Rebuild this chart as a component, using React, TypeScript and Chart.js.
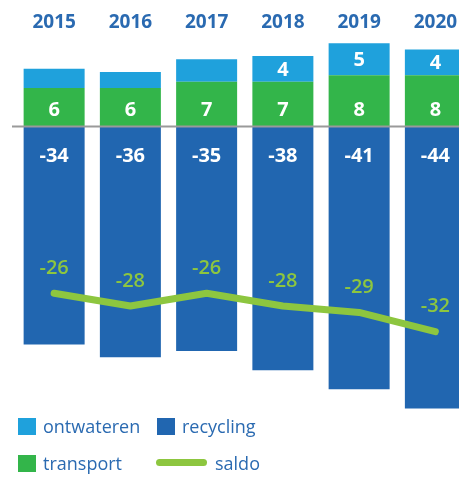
import React, { useEffect, useRef } from "react";
import { Chart, registerables } from "chart.js";

Chart.register(...registerables);

const years = ["2015", "2016", "2017", "2018", "2019", "2020"];
const transport = [6, 6, 7, 7, 8, 8];
const ontwateren = [3, 2.5, 3.5, 4, 5, 4];
const ontwaterenLabels = ["", "", "", "4", "5", "4"];
const recycling = [-34, -36, -35, -38, -41, -44];
const saldo = [-26, -28, -26, -28, -29, -32];

const C_ONT = "#1fa1dc";
const C_TRA = "#33b54a";
const C_REC = "#2166b0";
const C_SAL = "#8dc63f";
const C_TXT = "#2a6ab1";
const FONT = "'Open Sans', sans-serif";

const labelPlugin = {
  id: "labels",
  afterDatasetsDraw(chart: any) {
    const ctx = chart.ctx;
    const y0 = chart.scales.y.getPixelForValue(0);
    ctx.save();
    ctx.strokeStyle = "#9a9a9a";
    ctx.lineWidth = 2;
    ctx.beginPath();
    ctx.moveTo(4, y0);
    ctx.lineTo(chart.width, y0);
    ctx.stroke();

    ctx.textAlign = "center";
    ctx.textBaseline = "middle";
    ctx.fillStyle = "#ffffff";
    ctx.font = `bold 20px ${FONT}`;
    const mTra = chart.getDatasetMeta(0);
    mTra.data.forEach((el: any, i: number) => {
      ctx.fillText(String(transport[i]), el.x, y0 - 16);
    });
    const mOnt = chart.getDatasetMeta(1);
    mOnt.data.forEach((el: any, i: number) => {
      if (ontwaterenLabels[i]) ctx.fillText(ontwaterenLabels[i], el.x, (el.y + el.base) / 2 + 1);
    });
    const mRec = chart.getDatasetMeta(2);
    mRec.data.forEach((el: any, i: number) => {
      ctx.fillText(String(recycling[i]), el.x, y0 + 30);
    });
    ctx.fillStyle = C_SAL;
    ctx.font = `600 20px ${FONT}`;
    const mSal = chart.getDatasetMeta(3);
    mSal.data.forEach((el: any, i: number) => {
      ctx.fillText(String(saldo[i]), el.x, el.y - 25);
    });
    ctx.restore();
  },
};

export default function App() {
  const ref = useRef<HTMLCanvasElement>(null);
  useEffect(() => {
    document.documentElement.style.overflow = "hidden";
    document.body.style.overflow = "hidden";
    document.body.style.margin = "8px 0 0 8px";
    if (!ref.current) return;
    const chart = new Chart(ref.current, {
      type: "bar",
      data: {
        labels: years,
        datasets: [
          { type: "bar", label: "transport", data: transport, backgroundColor: C_TRA, stack: "s", order: 1, borderWidth: 0 },
          { type: "bar", label: "ontwateren", data: ontwateren, backgroundColor: C_ONT, stack: "s", order: 1, borderWidth: 0 },
          { type: "bar", label: "recycling", data: recycling, backgroundColor: C_REC, stack: "s", order: 1, borderWidth: 0 },
          {
            type: "line",
            label: "saldo",
            data: saldo,
            borderColor: C_SAL,
            backgroundColor: C_SAL,
            borderWidth: 7,
            borderCapStyle: "round",
            borderJoinStyle: "round",
            pointRadius: 0,
            tension: 0,
            order: 0,
          },
        ],
      },
      options: {
        responsive: false,
        animation: false,
        layout: { padding: { left: 8, right: 9.5, top: 0, bottom: 0 } },
        plugins: { legend: { display: false }, tooltip: { enabled: false } },
        datasets: { bar: { barPercentage: 0.8, categoryPercentage: 1.0 } },
        scales: {
          x: {
            position: "top",
            stacked: true,
            grid: { display: false, drawTicks: false },
            border: { display: false },
            ticks: { color: C_TXT, font: { family: FONT, size: 19, weight: "bold" }, padding: 3 },
          },
          y: {
            stacked: true,
            display: false,
            min: -45,
            max: 14,
          },
        },
      },
      plugins: [labelPlugin],
    } as any);
    return () => chart.destroy();
  }, []);

  const legText: React.CSSProperties = {
    position: "absolute",
    fontFamily: FONT,
    fontSize: 18,
    color: C_TXT,
    lineHeight: "20px",
    whiteSpace: "nowrap",
  };
  const sq = (c: string, x: number, y: number): React.CSSProperties => ({
    position: "absolute",
    left: x,
    top: y,
    width: 18,
    height: 17,
    background: c,
  });

  return (
    <div style={{ position: "relative", width: 451, height: 469, overflow: "hidden" }}>
      <canvas ref={ref} width={475} height={407} style={{ display: "block", width: 475, height: 407, maxWidth: "none" }} />
      <div style={sq(C_ONT, 10, 410)} />
      <div style={{ ...legText, left: 35, top: 408 }}>ontwateren</div>
      <div style={sq(C_REC, 149, 410)} />
      <div style={{ ...legText, left: 174, top: 408 }}>recycling</div>
      <div style={sq(C_TRA, 10, 447)} />
      <div style={{ ...legText, left: 35, top: 445 }}>transport</div>
      <div
        style={{
          position: "absolute",
          left: 148,
          top: 451,
          width: 51,
          height: 7,
          borderRadius: 4,
          background: C_SAL,
        }}
      />
      <div style={{ ...legText, left: 207, top: 445 }}>saldo</div>
    </div>
  );
}
